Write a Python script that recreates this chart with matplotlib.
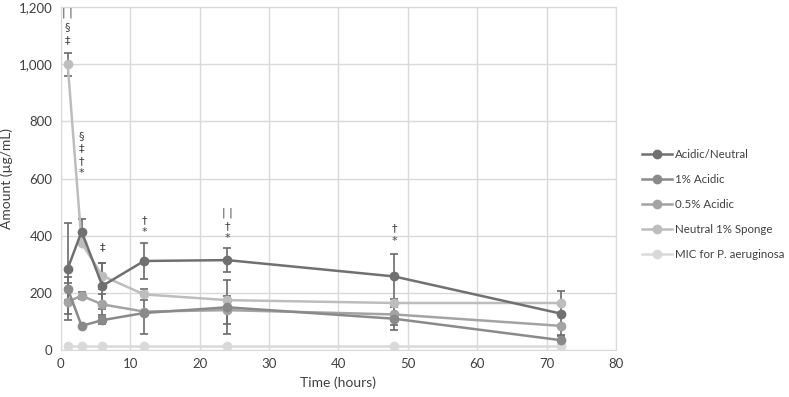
import matplotlib.pyplot as plt
from matplotlib.ticker import FuncFormatter

plt.rcParams['font.family'] = ['Lato', 'DejaVu Sans']

time = [1, 3, 6, 12, 24, 48, 72]

acid_neutral = [285, 415, 225, 312, 315, 258, 128]
acid_neutral_err = [160, 45, 80, 63, 42, 80, 78]

acid_1 = [215, 85, 105, 130, 150, 110, 35]
acid_1_err = [40, 0, 12, 75, 95, 40, 17]

acid_05 = [170, 190, 160, 135, 140, 125, 85]
acid_05_err = [65, 12, 38, 0, 50, 38, 0]

sponge = [1000, 375, 260, 195, 175, 165, 165]
sponge_err = [40, 0, 45, 20, 0, 0, 0]

mic = [15, 15, 15, 15, 15, 15, 15]

# significance marks: (time, y, symbol)
marks = [
    (1, 1180, '| |'), (1, 1130, '§'), (1, 1085, '‡'),
    (3, 750, '§'), (3, 705, '‡'), (3, 662, '†'), (3, 620, '*'),
    (6, 360, '‡'),
    (12, 455, '†'), (12, 415, '*'),
    (24, 480, '| |'), (24, 435, '†'), (24, 393, '*'),
    (48, 425, '†'), (48, 383, '*'),
]

series = [
    ('Acidic/Neutral', acid_neutral, acid_neutral_err, '#707070'),
    ('1% Acidic', acid_1, acid_1_err, '#8a8a8a'),
    ('0.5% Acidic', acid_05, acid_05_err, '#a3a3a3'),
    ('Neutral 1% Sponge', sponge, sponge_err, '#bdbdbd'),
    ('MIC for P. aeruginosa', mic, None, '#d9d9d9'),
]

fig = plt.figure(figsize=(7.89, 3.97), dpi=100)
ax = fig.add_axes([0.077, 0.118, 0.704, 0.864])

for name, vals, err, col in reversed(series):
    ax.plot(time, vals, color=col, marker='o', markersize=6, linewidth=1.8,
            label=name, zorder=3)
    if err is not None:
        ax.errorbar(time, vals, yerr=err, fmt='none', ecolor='#6b6b6b',
                    elinewidth=1.2, capsize=3, capthick=1.2, zorder=2)

for t, y, s in marks:
    ax.text(t, y, s, ha='center', va='center', fontsize=8, color='#404040',
            family=['DejaVu Sans'])

ax.set_xlim(0, 80)
ax.set_ylim(0, 1200)
ax.set_xticks(range(0, 81, 10))
ax.set_yticks(range(0, 1201, 200))
ax.yaxis.set_major_formatter(FuncFormatter(lambda v, p: f'{int(v):,}'))
ax.grid(True, color='#d9d9d9', linewidth=1)
ax.set_axisbelow(True)
for sp in ax.spines.values():
    sp.set_color('#d9d9d9')
ax.tick_params(length=0, labelsize=9.5, colors='#404040', pad=6)
ax.set_xlabel('Time (hours)', fontsize=10, color='#404040')
ax.set_ylabel('Amount (µg/mL)', fontsize=10, color='#404040')

h, l = ax.get_legend_handles_labels()
fig.legend(h[::-1], l[::-1], loc='upper left', bbox_to_anchor=(0.8, 0.65),
           frameon=False, fontsize=8.3, labelspacing=1.2, handlelength=2.6,
           handletextpad=0.3, labelcolor='#404040')

fig.savefig('out.png', dpi=100)
